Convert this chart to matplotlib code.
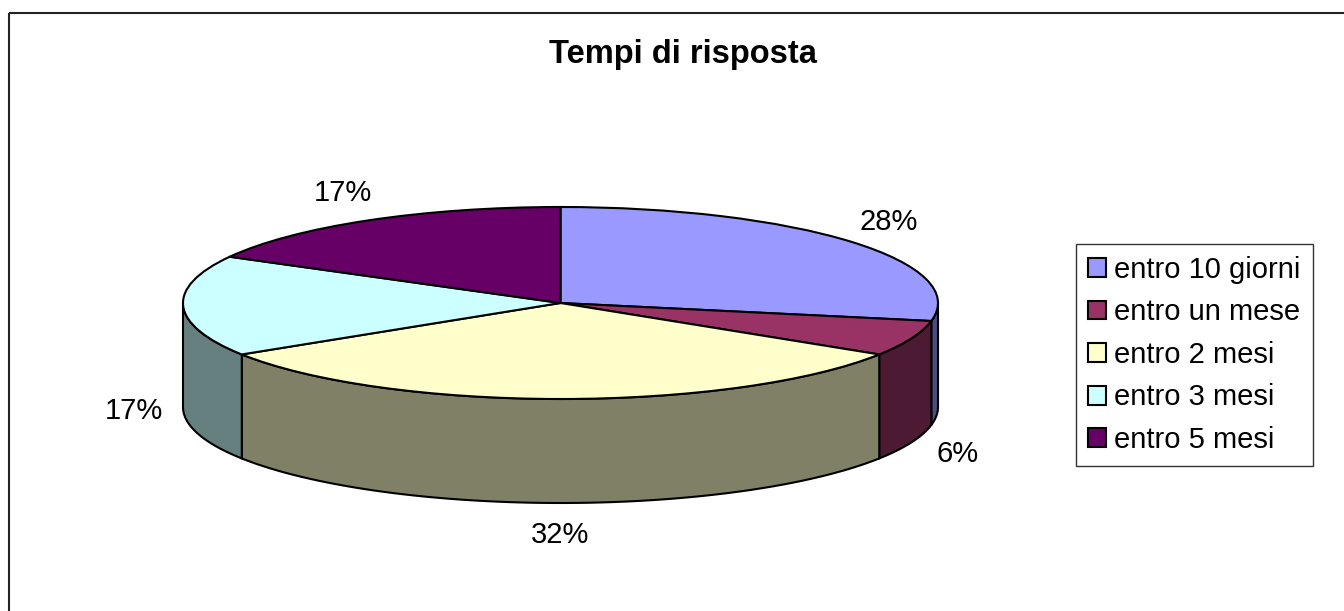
import numpy as np
import matplotlib.pyplot as plt
from matplotlib.patches import Wedge, Polygon, Rectangle, Patch

# data
categories = ['entro 10 giorni', 'entro un mese', 'entro 2 mesi', 'entro 3 mesi', 'entro 5 mesi']
shares = [28, 6, 32, 17, 17]
top_colors = ['#9999FF', '#993366', '#FFFFCC', '#CCFFFF', '#660066']
side_colors = ['#4C4C80', '#4D1A33', '#808066', '#668080', '#330033']
title = 'Tempi di risposta'

plt.rcParams['font.family'] = ['Liberation Sans', 'DejaVu Sans']

W, H = 1344, 611
fig = plt.figure(figsize=(W / 100, H / 100), dpi=100)

# background axes in pixel units, for the outer border
bg = fig.add_axes([0, 0, 1, 1])
bg.set_xlim(0, W)
bg.set_ylim(H, 0)
bg.axis('off')
bg.add_patch(Rectangle((9, 13), W, H, fill=False, edgecolor='#222222', lw=1.5))

# pie geometry (pixels)
cx, cy, rx, ry, depth = 560.5, 303, 377.5, 96, 104
d = depth / ry
ax = fig.add_axes([(cx - rx) / W, (H - (cy + ry + depth)) / H,
                   2 * rx / W, (2 * ry + depth) / H])
ax.set_xlim(-1, 1)
ax.set_ylim(-1 - d, 1)
ax.axis('off')

fracs = np.array(shares) / sum(shares)
cum = np.concatenate([[0], np.cumsum(fracs)])
starts = 90 - 360 * cum[:-1]
ends = 90 - 360 * cum[1:]

# side walls (front half only)
for t_start, t_end, col in zip(starts, ends, side_colors):
    a, b = max(t_end, -180), min(t_start, 0)
    if a >= b:
        continue
    t = np.radians(np.linspace(a, b, 100))
    top = np.column_stack([np.cos(t), np.sin(t)])
    bot = np.column_stack([np.cos(t), np.sin(t) - d])[::-1]
    ax.add_patch(Polygon(np.vstack([top, bot]), closed=True, facecolor=col,
                         edgecolor='black', lw=1.5, clip_on=False, zorder=1))

# top faces
for t_start, t_end, col in zip(starts, ends, top_colors):
    ax.add_patch(Wedge((0, 0), 1, t_end, t_start, facecolor=col,
                       edgecolor='black', lw=1.5, clip_on=False, zorder=2))

# percentage labels
for t_start, t_end, s in zip(starts, ends, shares):
    m = np.radians((t_start + t_end) / 2)
    x = 1.13 * np.cos(m)
    y = 1.33 * np.sin(m)
    if np.sin(m) < 0:
        y -= d
    ax.text(x, y, f'{s}%', ha='center', va='center', fontsize=21, clip_on=False)

fig.text(683 / W, 1 - 54 / H, title, ha='center', va='center',
         fontsize=23.5, fontweight='bold')

handles = [Patch(facecolor=c, edgecolor='black', lw=1.5) for c in top_colors]
leg = fig.legend(handles, categories, loc='upper left',
                 bbox_to_anchor=(1076 / W, 1 - 244 / H), fontsize=21,
                 frameon=True, fancybox=False, edgecolor='black',
                 handlelength=0.62, handleheight=0.62, handletextpad=0.3,
                 labelspacing=0.5, borderpad=0.4, borderaxespad=0)
leg.get_frame().set_linewidth(1.0)

fig.savefig('out.png', dpi=100)
